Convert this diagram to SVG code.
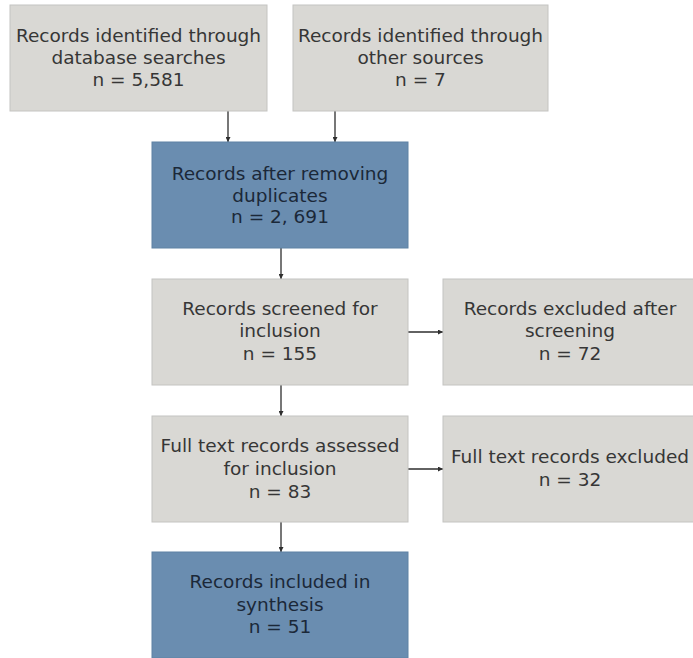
<svg xmlns="http://www.w3.org/2000/svg" width="693" height="658" viewBox="0 0 693 658">
<style>
.g{fill:#d9d8d4;stroke:#c4c4c1;stroke-width:1}
.b{fill:#6a8db0;stroke:#5f82a4;stroke-width:1}
text{font-family:"DejaVu Sans","Liberation Sans",sans-serif;font-size:18.5px;text-anchor:middle}
.tg{fill:#363636}
.tb{fill:#1b2838}
.c{stroke:#2e2e2e;stroke-width:1.3;fill:none;marker-end:url(#ah)}
</style>
<defs>
<marker id="ah" viewBox="0 0 10 10" refX="10" refY="5" markerWidth="5" markerHeight="5" orient="auto" markerUnits="userSpaceOnUse">
<path d="M0,0 L10,5 L0,10 z" fill="#2e2e2e"/>
</marker>
</defs>
<rect width="693" height="658" fill="#ffffff"/>
<g id="connectors">
<line class="c" x1="228" y1="111" x2="228" y2="142"/>
<line class="c" x1="335" y1="111" x2="335" y2="142"/>
<line class="c" x1="281" y1="248" x2="281" y2="279"/>
<line class="c" x1="408" y1="332" x2="443" y2="332"/>
<line class="c" x1="281" y1="385" x2="281" y2="416"/>
<line class="c" x1="408" y1="469" x2="443" y2="469"/>
<line class="c" x1="281" y1="522" x2="281" y2="552"/>
</g>
<g id="db-search">
<rect class="g" x="10" y="5" width="257" height="106"/>
<text class="tg" x="138.5" y="42">Records identified through</text>
<text class="tg" x="138.5" y="64">database searches</text>
<text class="tg" x="138.5" y="86">n = 5,581</text>
</g>
<g id="other-sources">
<rect class="g" x="293" y="5" width="255" height="106"/>
<text class="tg" x="420.5" y="42">Records identified through</text>
<text class="tg" x="420.5" y="64">other sources</text>
<text class="tg" x="420.5" y="86">n = 7</text>
</g>
<g id="dedup">
<rect class="b" x="152" y="142" width="256" height="106"/>
<text class="tb" x="280" y="180">Records after removing</text>
<text class="tb" x="280" y="202">duplicates</text>
<text class="tb" x="280" y="223">n = 2, 691</text>
</g>
<g id="screened">
<rect class="g" x="152" y="279" width="256" height="106"/>
<text class="tg" x="280" y="315">Records screened for</text>
<text class="tg" x="280" y="337">inclusion</text>
<text class="tg" x="280" y="360">n = 155</text>
</g>
<g id="excluded-screening">
<rect class="g" x="443" y="279" width="256" height="106"/>
<text class="tg" x="570" y="315">Records excluded after</text>
<text class="tg" x="570" y="337">screening</text>
<text class="tg" x="570" y="360">n = 72</text>
</g>
<g id="fulltext-assessed">
<rect class="g" x="152" y="416" width="256" height="106"/>
<text class="tg" x="280" y="452">Full text records assessed</text>
<text class="tg" x="280" y="475">for inclusion</text>
<text class="tg" x="280" y="498">n = 83</text>
</g>
<g id="fulltext-excluded">
<rect class="g" x="443" y="416" width="256" height="106"/>
<text class="tg" x="570" y="463">Full text records excluded</text>
<text class="tg" x="570" y="486">n = 32</text>
</g>
<g id="included">
<rect class="b" x="152" y="552" width="256" height="106"/>
<text class="tb" x="280" y="588">Records included in</text>
<text class="tb" x="280" y="611">synthesis</text>
<text class="tb" x="280" y="633">n = 51</text>
</g>
</svg>
